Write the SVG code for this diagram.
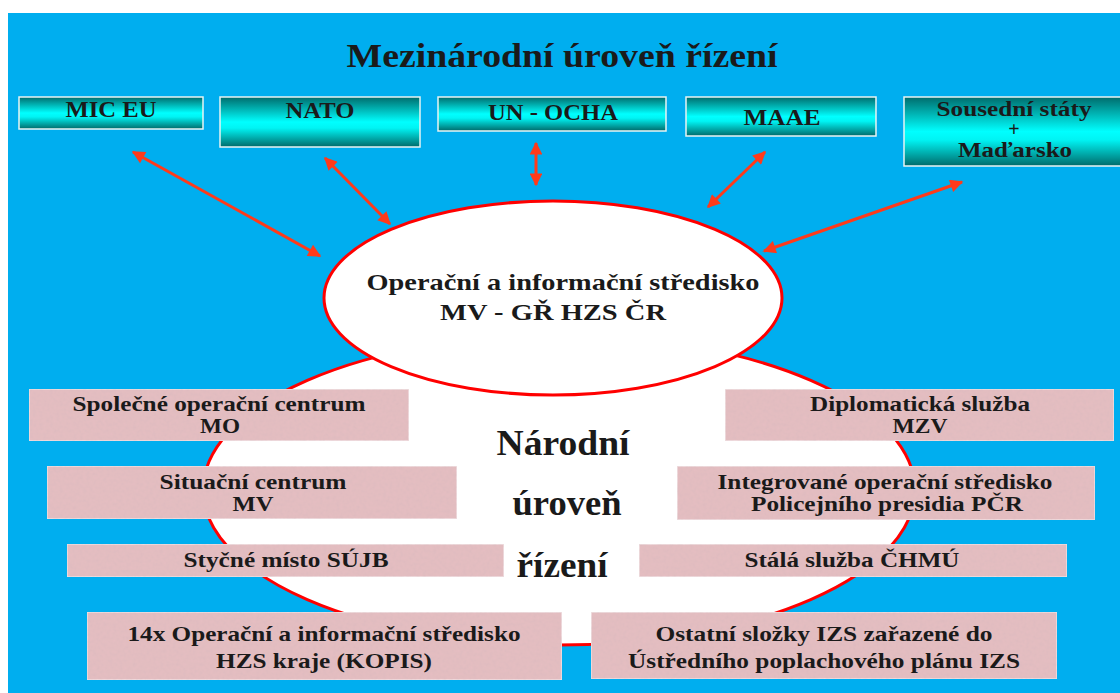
<svg xmlns="http://www.w3.org/2000/svg" width="1120" height="693" viewBox="0 0 1120 693">
<style>
text{font-family:"Liberation Serif","Times New Roman",serif;font-weight:bold;fill:#1a1a1a;text-anchor:middle}
.top{fill:url(#teal);stroke:#e8f4f4;stroke-width:1.5}
.pink{fill:#e6bec2;stroke:#f4e6e8;stroke-width:1.5}
.conn{stroke:#ff3a1a;stroke-width:3;fill:none;marker-start:url(#ah);marker-end:url(#ah)}
.t1{font-size:23px}
.t2{font-size:21px}
.ts{font-size:20px}
.t3{font-size:23px}
.t4{font-size:36px}
</style>
<defs>
<linearGradient id="teal" x1="0" y1="0" x2="0" y2="1">
<stop offset="0" stop-color="#006c6c"/>
<stop offset="0.5" stop-color="#00ffff"/>
<stop offset="0.62" stop-color="#00f4f4"/>
<stop offset="1" stop-color="#006a6a"/>
</linearGradient>
<marker id="ah" viewBox="0 0 10 10" refX="9" refY="5" markerWidth="5" markerHeight="4.3" orient="auto-start-reverse" markerUnits="strokeWidth">
<path d="M0,0 L10,5 L0,10 Z" fill="#ff3a1a"/>
</marker>
<filter id="tex" x="0" y="0" width="1" height="1">
<feTurbulence type="fractalNoise" baseFrequency="0.3" numOctaves="2" seed="3" result="n"/>
<feColorMatrix in="n" type="matrix" values="0 0 0 0 0.6  0 0 0 0 0.45  0 0 0 0 0.47  0 0 0 0.3 0" result="c"/>
<feComposite in="c" in2="SourceGraphic" operator="atop"/>
</filter>
</defs>
<rect x="0" y="0" width="1120" height="693" fill="#ffffff"/>
<rect x="8" y="13" width="1112" height="680" fill="#00aeef"/>
<text x="562" y="67" style="font-size:34px" textLength="431" lengthAdjust="spacingAndGlyphs">Mezinárodní úroveň řízení</text>

<g id="big-ellipse"><ellipse cx="559" cy="490" rx="356" ry="155" fill="#ffffff" stroke="#ff0000" stroke-width="3"/></g>

<g id="connectors">
<line class="conn" x1="320" y1="256" x2="133" y2="152"/>
<line class="conn" x1="390" y1="224" x2="325" y2="158"/>
<line class="conn" x1="536" y1="185" x2="536" y2="143"/>
<line class="conn" x1="708" y1="207" x2="765" y2="152"/>
<line class="conn" x1="764" y1="251" x2="962" y2="182"/>
</g>

<g id="center"><ellipse cx="553" cy="298" rx="229" ry="97" fill="#ffffff" stroke="#ff0000" stroke-width="3"/>
<text x="563" y="290" class="t3" textLength="393" lengthAdjust="spacingAndGlyphs">Operační a informační středisko</text>
<text x="553" y="320" class="t3" textLength="226" lengthAdjust="spacingAndGlyphs">MV - GŘ HZS ČR</text></g>

<g id="mic"><rect class="top" x="19" y="97" width="184" height="32"/><text x="111" y="117" class="t1" textLength="91" lengthAdjust="spacingAndGlyphs">MIC EU</text></g>
<g id="nato"><rect class="top" x="220" y="97" width="200" height="50"/><text x="320" y="118" class="t1" textLength="69" lengthAdjust="spacingAndGlyphs">NATO</text></g>
<g id="ocha"><rect class="top" x="438" y="97" width="228" height="34"/><text x="553" y="120" class="t1" textLength="130" lengthAdjust="spacingAndGlyphs">UN - OCHA</text></g>
<g id="maae"><rect class="top" x="686" y="97" width="190" height="39"/><text x="782" y="125" class="t1" textLength="77" lengthAdjust="spacingAndGlyphs">MAAE</text></g>
<g id="sousedni"><rect class="top" x="904" y="97" width="218" height="69"/>
<text x="1014" y="116" class="ts" textLength="155" lengthAdjust="spacingAndGlyphs">Sousední státy</text>
<text x="1014" y="136" class="ts">+</text>
<text x="1015" y="157" class="ts" textLength="114" lengthAdjust="spacingAndGlyphs">Maďarsko</text></g>

<g id="narodni">
<text x="563" y="455" class="t4" textLength="133" lengthAdjust="spacingAndGlyphs">Národní</text>
<text x="567" y="515" class="t4" textLength="109" lengthAdjust="spacingAndGlyphs">úroveň</text>
<text x="562" y="577" class="t4" textLength="91" lengthAdjust="spacingAndGlyphs">řízení</text>
</g>

<g id="mo"><rect class="pink" filter="url(#tex)" x="29" y="389" width="380" height="52"/>
<text x="219" y="411" class="t2" textLength="293" lengthAdjust="spacingAndGlyphs">Společné operační centrum</text><text x="220" y="433" class="t2" textLength="40" lengthAdjust="spacingAndGlyphs">MO</text></g>
<g id="mzv"><rect class="pink" filter="url(#tex)" x="725" y="389" width="389" height="52"/>
<text x="920" y="411" class="t2" textLength="220" lengthAdjust="spacingAndGlyphs">Diplomatická služba</text><text x="920" y="433" class="t2" textLength="55" lengthAdjust="spacingAndGlyphs">MZV</text></g>
<g id="mv"><rect class="pink" filter="url(#tex)" x="47" y="466" width="410" height="53"/>
<text x="253" y="489" class="t2" textLength="187" lengthAdjust="spacingAndGlyphs">Situační centrum</text><text x="253" y="511" class="t2" textLength="41" lengthAdjust="spacingAndGlyphs">MV</text></g>
<g id="pcr"><rect class="pink" filter="url(#tex)" x="677" y="466" width="418" height="54"/>
<text x="885" y="489" class="t2" textLength="335" lengthAdjust="spacingAndGlyphs">Integrované operační středisko</text><text x="887" y="511" class="t2" textLength="272" lengthAdjust="spacingAndGlyphs">Policejního presidia PČR</text></g>
<g id="sujb"><rect class="pink" filter="url(#tex)" x="67" y="544" width="437" height="33"/>
<text x="286" y="567" class="t2" textLength="205" lengthAdjust="spacingAndGlyphs">Styčné místo SÚJB</text></g>
<g id="chmu"><rect class="pink" filter="url(#tex)" x="639" y="544" width="428" height="33"/>
<text x="852" y="567" class="t2" textLength="215" lengthAdjust="spacingAndGlyphs">Stálá služba ČHMÚ</text></g>
<g id="kopis"><rect class="pink" filter="url(#tex)" x="87" y="612" width="475" height="68"/>
<text x="324" y="641" class="t2" textLength="393" lengthAdjust="spacingAndGlyphs">14x Operační a informační středisko</text><text x="324" y="668" class="t2" textLength="216" lengthAdjust="spacingAndGlyphs">HZS kraje (KOPIS)</text></g>
<g id="izs"><rect class="pink" filter="url(#tex)" x="591" y="612" width="466" height="67"/>
<text x="824" y="641" class="t2" textLength="337" lengthAdjust="spacingAndGlyphs">Ostatní složky IZS zařazené do</text><text x="824" y="668" class="t2" textLength="392" lengthAdjust="spacingAndGlyphs">Ústředního poplachového plánu IZS</text></g>
</svg>
